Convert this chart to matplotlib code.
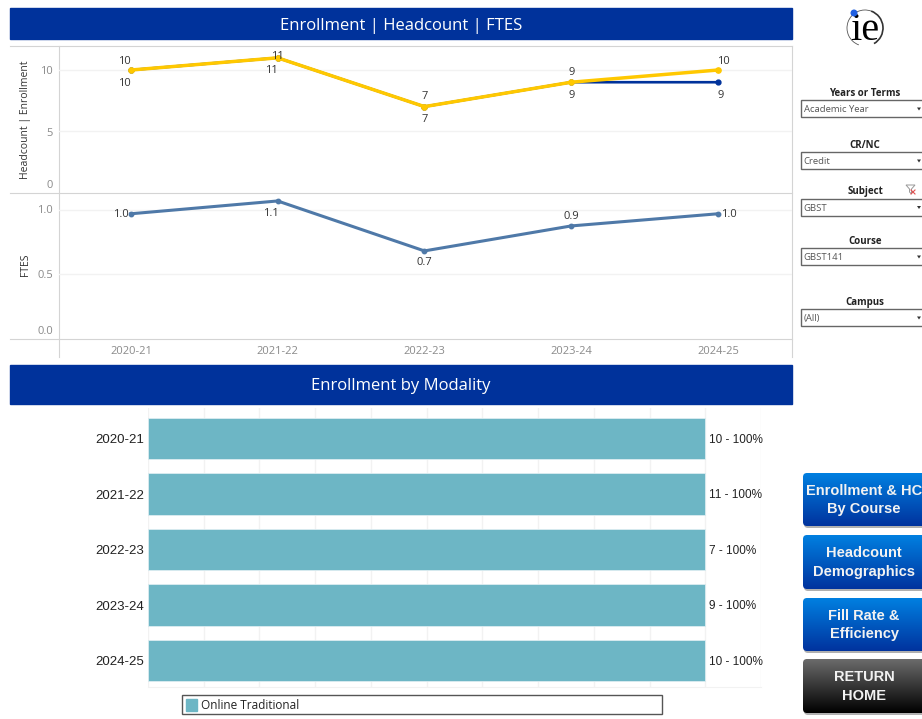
import numpy as np
import matplotlib
matplotlib.use("Agg")
import matplotlib.pyplot as plt
from matplotlib.patches import FancyBboxPatch, Rectangle, Arc, Circle, Polygon

years = ["2020-21", "2021-22", "2022-23", "2023-24", "2024-25"]
enrollment = [10, 11, 7, 9, 10]
headcount = [10, 11, 7, 9, 9]
ftes = [0.97, 1.07, 0.68, 0.875, 0.97]
ftes_labels = ["1.0", "1.1", "0.7", "0.9", "1.0"]
online_pct = [100, 100, 100, 100, 100]
legend_name = "Online Traditional"

filter_names = ["Years or Terms", "CR/NC", "Subject", "Course", "Campus"]
filter_values = ["Academic Year", "Credit", "GBST", "GBST141", "(All)"]
button_names = ["Enrollment & HC\nBy Course", "Headcount\nDemographics", "Fill Rate &\nEfficiency", "RETURN\nHOME"]

W, H = 922, 719
NAVY = "#00329b"
GOLD = "#ffc800"
STEEL = "#4f79a8"
TEAL = "#6db6c5"
LINE = "#d4d4d4"
GRID = "#f2f2f2"
TICK = "#8a8a8a"
LABEL = "#333333"

plt.rcParams["font.family"] = ["Open Sans", "DejaVu Sans"]

fig = plt.figure(figsize=(W / 100, H / 100), dpi=100)


def ax_px(x0, y0, x1, y1):
    return fig.add_axes([x0 / W, 1 - y1 / H, (x1 - x0) / W, (y1 - y0) / H])


# page layer, in pixels
bg = fig.add_axes([0, 0, 1, 1])
bg.set_xlim(0, W)
bg.set_ylim(H, 0)
bg.axis("off")

bg.add_patch(Rectangle((10, 8), 782, 31, color=NAVY))
bg.text(401, 26, "Enrollment | Headcount | FTES", color="white", fontsize=12, ha="center", va="center")
bg.add_patch(Rectangle((10, 365), 782, 39, color=NAVY))
bg.text(401, 386.5, "Enrollment by Modality", color="white", fontsize=12, ha="center", va="center")

# frame of the two line panels
bg.plot([10, 792], [46, 46], color=LINE, lw=0.8)
bg.plot([10, 792], [192.5, 192.5], color=LINE, lw=0.8)
bg.plot([10, 792], [338.5, 338.5], color=LINE, lw=0.8)
bg.plot([58.5, 58.5], [46, 357], color=LINE, lw=0.8)
bg.plot([792, 792], [46, 357], color=LINE, lw=0.8)
bg.text(25, 119.5, "Headcount | Enrollment", rotation=90, fontsize=7.5, color=LABEL, ha="center", va="center")
bg.text(25, 265, "FTES", rotation=90, fontsize=7.5, color=LABEL, ha="center", va="center")

xs = np.arange(len(years))

# headcount / enrollment
ax1 = ax_px(59, 46, 792, 192)
ax1.set_xlim(-0.49, 4.505)
ax1.set_ylim(0, 11.97)
ax1.plot(xs, headcount, color=NAVY, lw=1.9, marker="o", ms=3.5, clip_on=False)
ax1.plot(xs, enrollment, color=GOLD, lw=2.5, marker="o", ms=3.8, clip_on=False)
top_off = [(-6, 9), (0, 1), (0, 10), (0, 10), (6, 9)]
low_off = [(-6, -13), (-6, -13), (0, -13), (0, -13), (3, -13)]
for i in xs:
    ax1.annotate(str(enrollment[i]), (i, enrollment[i]), xytext=top_off[i], textcoords="offset pixels",
                 ha="center", va="center", fontsize=8, color=LABEL)
    ax1.annotate(str(headcount[i]), (i, headcount[i]), xytext=low_off[i], textcoords="offset pixels",
                 ha="center", va="center", fontsize=8, color=LABEL)
ax1.set_yticks([5, 10])
ax1.set_xticks([])

# ftes
ax2 = ax_px(59, 192, 792, 338)
ax2.set_xlim(-0.49, 4.505)
ax2.set_ylim(0, 1.14)
ax2.plot(xs, ftes, color=STEEL, lw=2.2, marker="o", ms=3.2, clip_on=False)
ftes_off = [(-10, -1), (-7, -13), (0, -12), (0, 9), (11, -1)]
for i in xs:
    ax2.annotate(ftes_labels[i], (i, ftes[i]), xytext=ftes_off[i], textcoords="offset pixels",
                 ha="center", va="center", fontsize=8, color=LABEL)
ax2.set_yticks([0.5, 1.0])
ax2.set_xticks([])

for ax in (ax1, ax2):
    ax.patch.set_visible(False)
    ax.grid(axis="y", color=GRID, lw=1)
    ax.set_axisbelow(True)
    for s in ax.spines.values():
        s.set_visible(False)
    ax.tick_params(left=False, labelleft=False, bottom=False)

for y, t in [(71, "10"), (133, "5"), (186, "0")]:
    bg.text(53, y, t, fontsize=8, color=TICK, ha="right", va="center")
for y, t in [(210.5, "1.0"), (275, "0.5"), (331, "0.0")]:
    bg.text(53, y, t, fontsize=8, color=TICK, ha="right", va="center")
for i, year in enumerate(years):
    bg.text(131 + 146.75 * i, 351, year, fontsize=8, color=TICK, ha="center", va="center")

# modality bars
ax3 = ax_px(148, 408, 761, 687)
ax3.set_xlim(0, 110)
ax3.set_ylim(4.476, -0.55)
ax3.barh(xs, online_pct, height=0.75, color=TEAL, edgecolor="#dcedf1", lw=0.6)
ax3.set_xticks(np.arange(0, 111, 10))
ax3.set_yticks(xs)
ax3.set_yticklabels(years, fontsize=9.5, color="#222222", family=["Liberation Sans", "DejaVu Sans"])
ax3.tick_params(length=0, pad=3, labelbottom=False)
ax3.grid(axis="x", color=GRID, lw=1)
ax3.set_axisbelow(True)
for s in ax3.spines.values():
    s.set_visible(False)
ax3.spines["bottom"].set_visible(True)
ax3.spines["bottom"].set_color(GRID)
for i in xs:
    ax3.annotate(f"{enrollment[i]} - {online_pct[i]}%", (online_pct[i], i), xytext=(4, -1),
                 textcoords="offset pixels", va="center", fontsize=8.5, color="#222222",
                 family=["Liberation Sans"])

# legend box
bg.add_patch(Rectangle((182, 695), 480, 19, fc="white", ec="#555555", lw=1))
bg.add_patch(Rectangle((186, 698.5), 11, 12, color=TEAL))
bg.text(201, 705.5, legend_name, fontsize=8.5, color="#222222", va="center", family=["Open Sans"])

# filters
label_y = [93, 146, 191.5, 241.5, 302.5]
box_y = [100, 152, 198.5, 248, 309]
for name, val, ly, by in zip(filter_names, filter_values, label_y, box_y):
    bg.text(865, ly, name, fontsize=7, fontweight="bold", color="#222222", ha="center", va="center")
    bg.add_patch(Rectangle((800.5, by), 125, 17, fc="white", ec="#666666", lw=1, clip_on=True))
    bg.text(803.5, by + 10, val, fontsize=6.8, color="#555555", va="center")
    bg.add_patch(Polygon([[917, by + 7.5], [921, by + 7.5], [919, by + 10.5]], color="#333333", lw=0))

# clear-filter icon
bg.add_patch(Polygon([[906, 185], [915, 185], [911.5, 189], [911.5, 194], [909.5, 192], [909.5, 189]],
                     fc="white", ec="#999999", lw=0.7))
bg.plot([911, 915], [190, 194], color="#e05050", lw=0.8)
bg.plot([915, 911], [190, 194], color="#e05050", lw=0.8)

# logo
bg.text(865, 30, "ie", fontsize=29, color="black", ha="center", va="center", family=["Liberation Serif"])
bg.add_patch(Arc((865, 28), 36, 36, theta1=-70, theta2=60, color="#333333", lw=1.2))
bg.add_patch(Arc((865, 28), 36, 36, theta1=110, theta2=290, color="#555555", lw=0.6))
bg.add_patch(Circle((854, 13), 2.8, color="#1f5fe0", zorder=3))

# nav buttons
button_y = [(473, 526), (535, 589), (598, 651), (659, 713)]
blue = np.linspace([0.0, 0.50, 0.88], [0.0, 0.20, 0.62], 64)[:, None, :]
dark = np.linspace([0.42, 0.42, 0.42], [0.0, 0.0, 0.0], 64)[:, None, :]
for k, (name, (y0, y1)) in enumerate(zip(button_names, button_y)):
    x0 = 803
    shadow = FancyBboxPatch((x0 + 1, y0 + 2), 125, y1 - y0, boxstyle="round,pad=0,rounding_size=4",
                            fc="#b0b0b0", ec="none")
    bg.add_patch(shadow)
    shape = FancyBboxPatch((x0, y0), 125, y1 - y0, boxstyle="round,pad=0,rounding_size=4", fc="none", ec="none")
    bg.add_patch(shape)
    im = bg.imshow(dark if k == 3 else blue, extent=(x0, x0 + 125, y1, y0), aspect="auto", zorder=2)
    im.set_clip_path(shape)
    bg.text(864, (y0 + y1) / 2 + 0.5, name, color="#f2f2f2", fontsize=10.5, fontweight="bold", ha="center",
            va="center", linespacing=1.4, zorder=3, family=["Liberation Sans"])
bg.set_xlim(0, W)
bg.set_ylim(H, 0)

fig.savefig("out.png", dpi=100)
